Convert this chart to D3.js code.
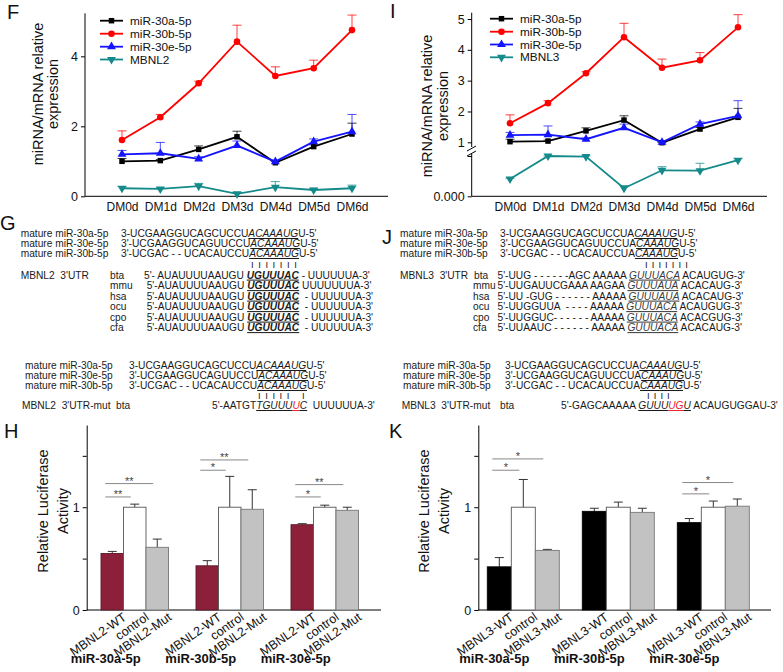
<!DOCTYPE html>
<html><head><meta charset="utf-8">
<script src="https://cdn.jsdelivr.net/npm/d3@7"></script>
<style>
html,body{margin:0;padding:0;background:#fff;}
svg{display:block;}
text{white-space:pre;}
</style></head><body>
<svg id="c" width="783" height="672"></svg>
<script>
// ---------------- DATA ----------------
const days = ["DM0d","DM1d","DM2d","DM3d","DM4d","DM5d","DM6d"];
const lineSeriesNames = ["miR-30a-5p","miR-30b-5p","miR-30e-5p"];

// Panel F
const f_30a = [1.00,1.02,1.34,1.70,0.96,1.42,1.78];
const f_30a_err = [0.08,0.03,0.10,0.16,0.03,0.05,0.31];
const f_30b = [1.61,2.26,3.23,4.42,3.44,3.66,4.75];
const f_30b_err = [0.26,0.08,0.06,0.47,0.26,0.23,0.43];
const f_30e = [1.20,1.23,1.07,1.45,0.99,1.56,1.85];
const f_30e_err = [0.11,0.31,0.06,0.13,0.04,0.08,0.49];
const f_mbnl2 = [0.23,0.21,0.29,0.07,0.26,0.18,0.23];
const f_mbnl2_err = [0.05,0.03,0.08,0.04,0.16,0.05,0.09];
const f_ticks = [0,2,4];

// Panel I (broken axis)
const i_30a = [1.02,1.04,1.37,1.72,0.97,1.43,1.81];
const i_30a_err = [0.08,0.03,0.10,0.14,0.03,0.05,0.29];
const i_30b = [1.62,2.27,3.24,4.41,3.42,3.66,4.73];
const i_30b_err = [0.27,0.08,0.05,0.45,0.28,0.25,0.41];
const i_30e = [1.23,1.25,1.10,1.47,1.00,1.59,1.86];
const i_30e_err = [0.09,0.28,0.04,0.12,0.03,0.07,0.49];
const i_mbnl3 = [0.0086,0.0210,0.0197,0.0040,0.0129,0.0127,0.0179];
const i_mbnl3_err = [0.0003,0.0005,0.0004,0.0013,0.0018,0.0037,0.0008];
const i_ticks = [0,0.02,1,2,3,4,5];

// Panels H, K (luciferase)
const groups = ["miR-30a-5p","miR-30b-5p","miR-30e-5p"];
const h_types = ["MBNL2-WT","control","MBNL2-Mut"];
const h_wt = [0.55,0.43,0.83];   const h_wt_err = [0.02,0.05,0.01];
const h_ctrl = [1.00,1.00,1.00]; const h_ctrl_err = [0.03,0.30,0.02];
const h_mut = [0.61,0.98,0.97];  const h_mut_err = [0.08,0.19,0.03];
const h_sig = [ // group, from-bar, to-bar, level, label
  [0,0,1,1.10,"**"],[0,0,2,1.23,"**"],
  [1,0,1,1.36,"*"],[1,0,2,1.46,"**"],
  [2,0,1,1.10,"*"],[2,0,2,1.22,"**"]];
const k_types = ["MBNL3-WT","control","MBNL3-Mut"];
const k_wt = [0.42,0.96,0.85];   const k_wt_err = [0.09,0.03,0.04];
const k_ctrl = [1.00,1.00,1.00]; const k_ctrl_err = [0.27,0.05,0.06];
const k_mut = [0.58,0.95,1.01];  const k_mut_err = [0.01,0.04,0.07];
const k_sig = [
  [0,0,1,1.36,"*"],[0,0,2,1.47,"*"],
  [2,0,1,1.13,"*"],[2,0,2,1.24,"*"]];
const bar_ticks = [0,0.5,1,1.5];

// Sequence panels G, J
const mirnaRows = ["mature miR-30a-5p","mature miR-30e-5p","mature miR-30b-5p"];
const g_mirna = ["3-UCGAAGGUCAGCUCCU[ACAAAUG]U-5'","3'-UCGAAGGUCAGUUCCU[ACAAAUG]U-5'","3'-UCGAC - - UCACAUCCU[ACAAAUG]U-5'"];
const species = ["bta","mmu","hsa","ocu","cpo","cfa"];
const g_utr = ["5'- AUAUUUUAAUGU [UGUUUAC] - UUUUUUA-3'","5'-AUAUUUUAAUGU [UGUUUAC] UUUUUUUA-3'","5'-AUAUUUUAAUGU [UGUUUAC]  - UUUUUUA-3'","5'-AUAUUUUAAUGU [UGUUUAC]  - UUUUUUA-3'","5'-AUAUUUUAAUGU [UGUUUAC]  - UUUUUUA-3'","5'-AUAUUUUAAUGU [UGUUUAC]  - UUUUUUA-3'"];
const g_mut = "5'-AATGT[TGUUU]{U}[C]  UUUUUUA-3'";
const j_mirna = ["3-UCGAAGGUCAGCUCCUA[CAAAUG]U-5'","3'-UCGAAGGUCAGUUCCUA[CAAAUG]U-5'","3'-UCGAC - - UCACAUCCUA[CAAAUG]U-5'"];
const j_utr = ["5'-UUG - - - - - -AGC AAAAA [GUUUACA] ACAUGUG-3'","5'-UUGAUUCGAAA AAGAA [GUUUAUA] ACACAUG-3'","5'-UU -GUG - - - - - - AAAAA [GUUUAUA] ACACAUG-3'","5'-UUGGUUA  - - - - AAAAA [GUUUACA] ACAUGUG-3'","5'-UUGGUC- - - - - - AAAAA [GUUUACA] ACACGUG-3'","5'-UUAAUC - - - - - - AAAAA [GUUUACA] ACACAUG-3'"];
const j_mut = "5'-GAGCAAAAA [GUUU]{UG}[U] ACAUGUGGAU-3'";

// ---------------- DRAW ----------------
const FONT = '"Liberation Sans", Arial, Helvetica, sans-serif';
const svg = d3.select("#c").attr("font-family", FONT);
svg.append("rect").attr("width",783).attr("height",672).attr("fill","#fff");

function letter(t,x,y){ svg.append("text").attr("x",x).attr("y",y).attr("font-size",20).attr("fill","#111").text(t); }
letter("F",7,19); letter("I",390,18); letter("G",0,230); letter("J",382,244); letter("H",4,438); letter("K",389,438);

function yLabel(lines, xs, cy){
  lines.forEach((t,i)=>{
    svg.append("text").attr("transform",`translate(${xs[i]},${cy}) rotate(-90)`)
      .attr("text-anchor","middle").attr("font-size",14.5).attr("fill","#111").text(t);
  });
}

const COLORS = {a:"#000000", b:"#ff0000", e:"#1414ff", m:"#148a8a"};

function linePanel(o){
  const g = svg.append("g");
  const x = d3.scalePoint().domain(days).range(o.xRange);
  const y = o.y;
  const ya = d3.axisLeft(y).tickValues(o.ticks).tickFormat(o.fmt).tickSize(4).tickSizeOuter(0).tickPadding(3);
  const yg = g.append("g").attr("transform",`translate(${o.ax},0)`).call(ya)
     .attr("font-size",12.5).attr("font-family",FONT);
  yg.select(".domain").remove();
  yg.selectAll("text").attr("fill","#111");
  o.segs.forEach(s=>g.append("line").attr("x1",o.ax).attr("x2",o.ax).attr("y1",s[0]).attr("y2",s[1]).attr("stroke","#000"));
  g.append("line").attr("x1",o.ax).attr("x2",o.xEnd).attr("y1",y(0)).attr("y2",y(0)).attr("stroke","#000");
  const xg = g.append("g").attr("transform",`translate(0,${y(0)})`).call(d3.axisBottom(x).tickSize(0).tickPadding(6))
     .attr("font-size",12).attr("font-family",FONT);
  xg.select(".domain").remove();
  xg.selectAll("text").attr("fill","#111");
  const line = d3.line().x((d,i)=>x(days[i])).y(d=>y(d));
  o.series.forEach(s=>{
    const eg = g.append("g").attr("stroke",s.color).attr("stroke-opacity",0.75).attr("stroke-width",1);
    s.values.forEach((v,i)=>{
      const cx = x(days[i]), y1 = y(v), y2 = y(v+s.err[i]);
      eg.append("line").attr("x1",cx).attr("x2",cx).attr("y1",y1).attr("y2",y2);
      eg.append("line").attr("x1",cx-4.5).attr("x2",cx+4.5).attr("y1",y2).attr("y2",y2);
    });
  });
  o.series.forEach(s=>{
    g.append("path").attr("d",line(s.values)).attr("fill","none").attr("stroke",s.color).attr("stroke-width",1.8);
    g.selectAll(null).data(s.values).join("path")
      .attr("transform",(d,i)=>`translate(${x(days[i])},${y(d)}) rotate(${s.rot||0})`)
      .attr("d",d3.symbol(s.sym,s.size)()).attr("fill",s.color);
  });
  o.series.forEach((s,i)=>{
    const ly = o.legY[i];
    g.append("line").attr("x1",o.legX).attr("x2",o.legX+23).attr("y1",ly).attr("y2",ly).attr("stroke",s.color).attr("stroke-width",1.8);
    g.append("path").attr("transform",`translate(${o.legX+11.5},${ly}) rotate(${s.rot||0})`).attr("d",d3.symbol(s.sym,s.size)()).attr("fill",s.color);
    g.append("text").attr("x",o.legX+30).attr("y",ly+4).attr("font-size",11.8).attr("fill","#111").text(s.name);
  });
}

function mkSeries(a,ae,b,be,e,ee,m,me,mname){
  return [
    {name:lineSeriesNames[0],values:a,err:ae,color:COLORS.a,sym:d3.symbolSquare,size:30},
    {name:lineSeriesNames[1],values:b,err:be,color:COLORS.b,sym:d3.symbolCircle,size:34},
    {name:lineSeriesNames[2],values:e,err:ee,color:COLORS.e,sym:d3.symbolTriangle,size:34},
    {name:mname,values:m,err:me,color:COLORS.m,sym:d3.symbolTriangle,size:34,rot:180}
  ];
}

// F
const yF = d3.scaleLinear().domain([0,5.23]).range([196.3,13.3]);
linePanel({xRange:[122,352], y:yF, ax:85, xEnd:388, ticks:f_ticks, fmt:d3.format("d"),
  segs:[[196.3,13.3]], series:mkSeries(f_30a,f_30a_err,f_30b,f_30b_err,f_30e,f_30e_err,f_mbnl2,f_mbnl2_err,"MBNL2"),
  legX:100, legY:[20.7,33.7,46.7,59.5]});
yLabel(["miRNA/mRNA relative","expression"],[43,57.5],94);

// I (piecewise scale: lower segment for MBNL3, upper for miRNAs)
const yI = d3.scaleLinear().domain([0,0.02,1,5]).range([196.3,156,142.3,19]);
linePanel({xRange:[510,738], y:yI, ax:471.7, xEnd:767, ticks:i_ticks,
  fmt:d=> d===0?"0.000":(d<1?"":d3.format("d")(d)),
  segs:[[196.3,154],[147,12.7]], series:mkSeries(i_30a,i_30a_err,i_30b,i_30b_err,i_30e,i_30e_err,i_mbnl3,i_mbnl3_err,"MBNL3"),
  legX:490, legY:[18.7,31.7,44.5,57.3]});
svg.append("line").attr("x1",467).attr("x2",476).attr("y1",151).attr("y2",146).attr("stroke","#000");
svg.append("line").attr("x1",467).attr("x2",476).attr("y1",156).attr("y2",151).attr("stroke","#000");
yLabel(["miRNA/mRNA relative","expression"],[432,447.5],106);

// Bar panels
function barPanel(o){
  const g = svg.append("g");
  const y = d3.scaleLinear().domain([0,1.8]).range([610,425]);
  const x0 = d3.scaleBand().domain(groups).range([o.gStart,o.gStart+3*95]);
  const x1 = d3.scaleBand().domain(o.types).range([0,3*o.bw]);
  const ya = d3.axisLeft(y).tickValues(bar_ticks).tickFormat(d=>d===0||d===1?d3.format("d")(d):"").tickSize(4).tickSizeOuter(0).tickPadding(3);
  const yg = g.append("g").attr("transform",`translate(${o.ax},0)`).call(ya).attr("font-size",12.5).attr("font-family",FONT);
  yg.select(".domain").attr("stroke","#000");
  yg.selectAll("text").attr("fill","#111");
  g.append("line").attr("x1",o.ax).attr("x2",o.xEnd).attr("y1",y(0)).attr("y2",y(0)).attr("stroke","#000");
  const vals = [o.wt,o.ctrl,o.mut], errs=[o.wte,o.ctrle,o.mute];
  groups.forEach((gr,gi)=>{
    o.types.forEach((t,ti)=>{
      const v = vals[ti][gi], e = errs[ti][gi];
      const bx = x0(gr)+x1(t), cx = bx + x1.bandwidth()/2;
      g.append("line").attr("x1",cx).attr("x2",cx).attr("y1",y(v)).attr("y2",y(v+e)).attr("stroke","#333");
      g.append("line").attr("x1",cx-4.5).attr("x2",cx+4.5).attr("y1",y(v+e)).attr("y2",y(v+e)).attr("stroke","#333");
      g.append("rect").attr("x",bx).attr("y",y(v)).attr("width",x1.bandwidth()).attr("height",y(0)-y(v))
        .attr("fill",o.fills[ti]).attr("stroke",o.strokes[ti]).attr("stroke-width",0.9);
      g.append("text").attr("transform",`translate(${cx+15},${619}) rotate(-35)`).attr("text-anchor","end")
        .attr("font-size",12.5).attr("fill","#111").text(t);
    });
    g.append("text").attr("x",x0(gr)+x1.bandwidth()*1.5-29).attr("y",663).attr("text-anchor","middle")
      .attr("font-size",13).attr("font-weight","bold").attr("fill","#111").text(gr);
  });
  o.sig.forEach(([gi,a,b,lev,lab])=>{
    const ca = x0(groups[gi])+x1(o.types[a])+x1.bandwidth()/2;
    const cb = x0(groups[gi])+x1(o.types[b])+x1.bandwidth()/2;
    const xa = ca-7, xb = cb-4, yy=y(lev);
    g.append("line").attr("x1",xa).attr("x2",xb).attr("y1",yy).attr("y2",yy).attr("stroke","#888").attr("stroke-width",1);
    g.append("text").attr("x",(xa+xb)/2).attr("y",yy+1).attr("text-anchor","middle").attr("font-size",11).attr("fill","#444").text(lab);
  });
}
barPanel({ax:86.7,xEnd:381,gStart:101,bw:22.5,types:h_types,wt:h_wt,wte:h_wt_err,ctrl:h_ctrl,ctrle:h_ctrl_err,mut:h_mut,mute:h_mut_err,
  fills:["#8c1f3a","#ffffff","#c2c2c2"],strokes:["#5a1a28","#555","#777"],sig:h_sig});
yLabel(["Relative Luciferase","Activity"],[47.7,67.7],511);
barPanel({ax:478.3,xEnd:771,gStart:487.3,bw:24,types:k_types,wt:k_wt,wte:k_wt_err,ctrl:k_ctrl,ctrle:k_ctrl_err,mut:k_mut,mute:k_mut_err,
  fills:["#000000","#ffffff","#c2c2c2"],strokes:["#000","#555","#777"],sig:k_sig});
yLabel(["Relative Luciferase","Activity"],[429.2,449.2],511);

// Sequence text
const SFS = 10.2;
function seq(x,y,str,opt={}){
  const t = svg.append("text").attr("x",x).attr("y",y).attr("font-size",SFS).attr("fill","#1a1a1a").attr("xml:space","preserve");
  str.match(/(\[[^\]]*\]|\{[^}]*\}|[^\[\{]+)/g).forEach(p=>{
    if(p[0]==="["){
      t.append("tspan").text(p.slice(1,-1)).attr("font-style","italic").attr("text-decoration","underline")
        .attr("font-weight",opt.bold?"bold":null).attr("fill",opt.seedFill||null);
    } else if(p[0]==="{"){
      t.append("tspan").text(p.slice(1,-1)).attr("font-style","italic").attr("text-decoration","underline").attr("fill","#e8262b");
    } else t.append("tspan").text(p);
  });
  return t;
}
// base-pairing marks: one "I" glyph per paired base
function pairs(xs,y){
  svg.append("text").attr("x",xs.join(" ")).attr("y",y).attr("font-size",9.5).attr("fill","#222").text("I".repeat(xs.length));
}
const step = (x0,n,s)=>d3.range(n).map(i=>x0+i*s);
// G block
mirnaRows.forEach((r,i)=>{ seq(20.7,237+10*i,r); seq(121,237+10*i,g_mirna[i]); });
pairs(step(251,7,7.2),268);
seq(20.7,278.6,"MBNL2  3'UTR");
species.forEach((s,i)=>{ const yy=278.6+10.5*i; seq(110,yy,s); seq(i===0?144:146.7,yy,g_utr[i],{bold:true}); });
mirnaRows.forEach((r,i)=>{ seq(25,369+10*i,r); seq(129,369+10*i,g_mirna[i]); });
pairs(step(258,5,7.2).concat([302]),398.5);
seq(22,409,"MBNL2  3'UTR-mut");
seq(116,409,species[0]); seq(212,409,g_mut);
// J block
mirnaRows.forEach((r,i)=>{ seq(400,237+10*i,r); seq(500,237+10*i,j_mirna[i]); });
pairs(step(645,7,6.7),268);
seq(400,278.6,"MBNL3  3'UTR");
species.forEach((s,i)=>{ const yy=278.6+10.5*i; seq(i===0?474:473,yy,s); seq(497.5,yy,j_utr[i],{seedFill:"#3a3a3a"}); });
mirnaRows.forEach((r,i)=>{ seq(403,369+10*i,r); seq(505,369+10*i,j_mirna[i]); });
pairs(step(647,4,6.7),398.5);
seq(401.7,409,"MBNL3  3'UTR-mut");
seq(500,409,species[0]); seq(561,409,j_mut);
</script>
</body></html>
